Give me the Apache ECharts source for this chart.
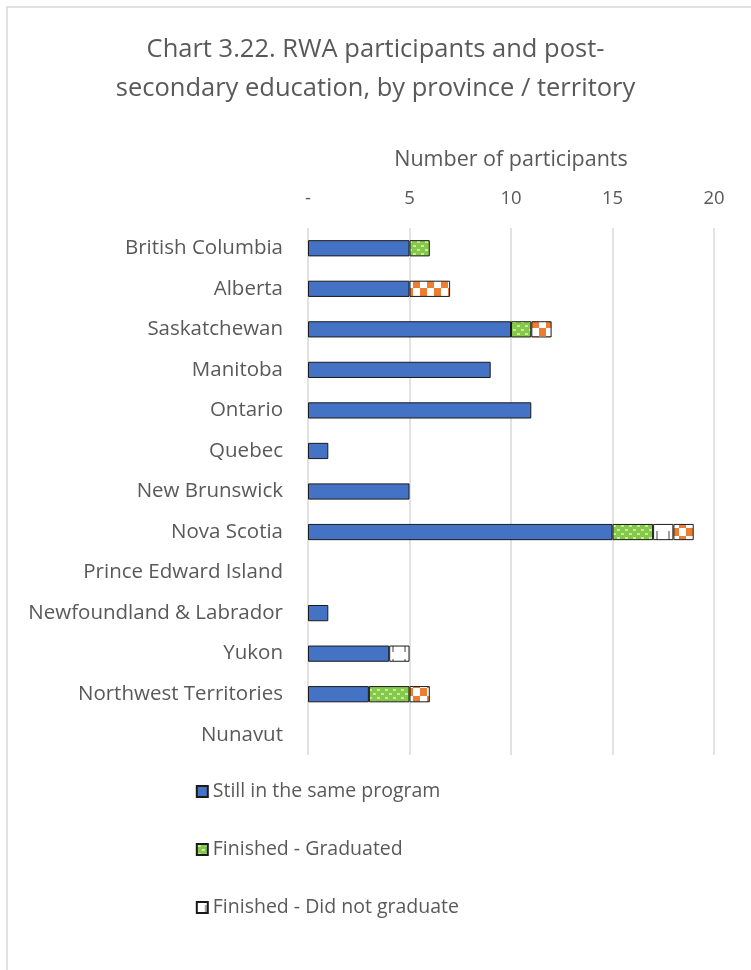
<!DOCTYPE html>
<html><head><meta charset="utf-8">
<script src="https://cdn.jsdelivr.net/npm/echarts@6/dist/echarts.min.js"></script>
<style>html,body{margin:0;padding:0;background:#fff}#c{width:751px;height:970px}</style>
</head><body><div id="c"></div>
<script>
const categories = ['British Columbia','Alberta','Saskatchewan','Manitoba','Ontario','Quebec','New Brunswick','Nova Scotia','Prince Edward Island','Newfoundland & Labrador','Yukon','Northwest Territories','Nunavut'];
const stillInProgram = [5,5,10,9,11,1,5,15,0,1,4,3,0];
const graduated      = [1,0,1,0,0,0,0,2,0,0,0,2,0];
const didNotGraduate = [0,0,0,0,0,0,0,1,0,0,1,0,0];
const otherOutcome   = [0,2,1,0,0,0,0,1,0,0,0,1,0];
const seriesNames = ['Still in the same program','Finished - Graduated','Finished - Did not graduate','Finished - Other'];
const xTicks = {min:0, max:20, interval:5};

function pat(w,h,bg,fg,rects){
  const c=document.createElement('canvas');c.width=w;c.height=h;
  const g=c.getContext('2d');g.fillStyle=bg;g.fillRect(0,0,w,h);
  g.fillStyle=fg;rects.forEach(r=>g.fillRect(r[0],r[1],r[2],r[3]));
  return {image:c,repeat:'repeat'};
}
const greenPat = pat(8,8,'#86c84a','#c9e8a6',[[1,1,3,2],[5,5,3,2]]);
const orangePat = pat(14,16,'#ffffff','#ed7d31',[[0,0,7,8],[7,8,7,8]]);
const grayPat = pat(12,16,'#ffffff','#a0a0a0',[[8,3,2,9]]);

const nz = a => a.map(v => v === 0 ? null : v);
const font = '"Open Sans", Lato, sans-serif';
const txt = '#595959';
const border = {borderColor:'#1a1a1a', borderWidth:1};

const chart = echarts.init(document.getElementById('c'));
chart.setOption({
  animation:false,
  textStyle:{fontFamily:font,color:txt},
  title:{text:'Chart 3.22. RWA participants and post-\nsecondary education, by province / territory',
    left:'center', top:25, textStyle:{fontFamily:font,fontSize:25.5,fontWeight:'normal',color:txt,lineHeight:39}},
  graphic:[{type:'rect',shape:{x:7,y:7,width:800,height:1000},style:{fill:'none',stroke:'#d9d9d9',lineWidth:1.5},silent:true}],
  legend:{data:seriesNames.slice(0,3), orient:'vertical', right:287, top:776, itemWidth:11, itemHeight:11, itemGap:37,
    textStyle:{fontFamily:font,fontSize:19.5,color:txt,lineHeight:21}, icon:'rect'},
  grid:{left:308,right:37,top:228,bottom:215,containLabel:false},
  xAxis:{type:'value', position:'top', min:xTicks.min, max:xTicks.max, interval:xTicks.interval,
    name:'Number of participants', nameLocation:'middle', nameGap:57,
    nameTextStyle:{fontFamily:font,fontSize:21.5,color:txt},
    axisLine:{show:false}, axisTick:{show:false},
    axisLabel:{fontFamily:font,fontSize:18.5,color:txt,margin:20,formatter:v=>v===0?'-':String(v)},
    splitLine:{lineStyle:{color:'#d9d9d9',width:1.5}}},
  yAxis:{type:'category', inverse:true, data:categories,
    axisLine:{show:false}, axisTick:{show:false},
    axisLabel:{fontFamily:font,fontSize:20.5,color:txt,margin:25}},
  series:[
    {name:seriesNames[0],type:'bar',stack:'s',barWidth:'40%',data:nz(stillInProgram),itemStyle:Object.assign({color:'#4472c4'},border)},
    {name:seriesNames[1],type:'bar',stack:'s',data:nz(graduated),itemStyle:Object.assign({color:greenPat},border)},
    {name:seriesNames[2],type:'bar',stack:'s',data:nz(didNotGraduate),itemStyle:Object.assign({color:grayPat},border)},
    {name:seriesNames[3],type:'bar',stack:'s',data:nz(otherOutcome),itemStyle:Object.assign({color:orangePat},border)}
  ]
});
</script></body></html>
